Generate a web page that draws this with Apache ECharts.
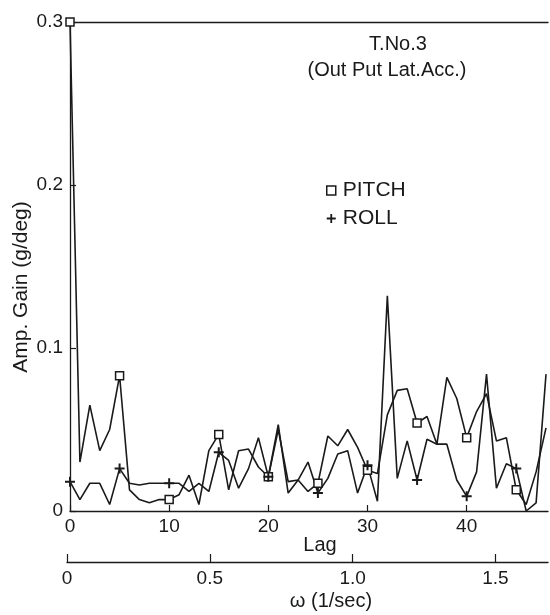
<!DOCTYPE html>
<html><head><meta charset="utf-8">
<script src="https://cdn.jsdelivr.net/npm/echarts@6/dist/echarts.min.js"></script>
<style>html,body{margin:0;padding:0;background:#fff}#c{width:550px;height:615px}</style>
</head><body><div id="c"></div>
<script>
// ---- data ----
const lags  = [0,1,2,3,4,5,6,7,8,9,10,11,12,13,14,15,16,17,18,19,20,21,22,23,24,25,26,27,28,29,30,31,32,33,34,35,36,37,38,39,40,41,42,43,44,45,46,47,48];
const pitch = [0.300,0.030,0.065,0.037,0.050,0.083,0.013,0.007,0.005,0.007,0.007,0.010,0.022,0.004,0.037,0.047,0.013,0.037,0.038,0.027,0.021,0.053,0.011,0.019,0.012,0.017,0.046,0.040,0.050,0.039,0.025,0.023,0.059,0.074,0.075,0.054,0.058,0.041,0.082,0.069,0.045,0.061,0.072,0.043,0.045,0.013,0.004,0.024,0.051];
const roll  = [0.018,0.007,0.017,0.017,0.004,0.026,0.017,0.016,0.017,0.017,0.017,0.017,0.012,0.017,0.012,0.036,0.031,0.014,0.026,0.045,0.021,0.050,0.018,0.019,0.030,0.011,0.020,0.035,0.037,0.011,0.028,0.006,0.132,0.020,0.043,0.019,0.044,0.041,0.041,0.019,0.009,0.024,0.084,0.014,0.029,0.026,0.000,0.005,0.084];
const lagTicks   = [0,10,20,30,40];
const omegaTicks = [0,0.5,1.0,1.5];
const yTicks     = [0,0.1,0.2,0.3];
const seriesNames = ['PITCH','ROLL'];
const titleLines = ['T.No.3','(Out Put Lat.Acc.)'];
const xName = 'Lag';
const omegaName = 'ω (1/sec)';
const yName = 'Amp. Gain (g/deg)';
const markerStep = 5;
const lagMax = 48.2;
const omegaMax = 1.684;

// ---- chart ----
const INK = '#1a1a1a';
const FONT = "'Liberation Sans', Arial, sans-serif";
const plus = 'path://M4,0H6V4H10V6H6V10H4V6H0V4H4Z';

const pair = arr => lags.map((l, i) => [l, arr[i]]);
const marks = arr => lags.filter(l => l % markerStep === 0).map(l => [l, arr[lags.indexOf(l)]]);

const chart = echarts.init(document.getElementById('c'), null, {renderer: 'canvas'});
chart.setOption({
  animation: false,
  backgroundColor: '#fff',
  textStyle: {fontFamily: FONT, color: INK},
  grid: [
    {left: 70, top: 22, width: 478, height: 489},
    {left: 67, top: 553, width: 481, height: 9}
  ],
  xAxis: [
    {type: 'value', gridIndex: 0, position: 'bottom', min: 0, max: lagMax,
     axisLine: {show: true, onZero: false, lineStyle: {color: INK, width: 1.3}},
     axisTick: {show: true, inside: true, length: 6, customValues: lagTicks, lineStyle: {color: INK, width: 1.2}},
     axisLabel: {customValues: lagTicks, margin: 6, fontSize: 19, color: INK, fontFamily: FONT},
     splitLine: {show: false}},
    {type: 'value', gridIndex: 1, position: 'bottom', min: 0, max: omegaMax,
     axisLine: {show: true, onZero: false, lineStyle: {color: INK, width: 1.3}},
     axisTick: {show: true, inside: true, length: 8, customValues: omegaTicks, lineStyle: {color: INK, width: 1.2}},
     axisLabel: {customValues: omegaTicks, margin: 7, fontSize: 19, color: INK, fontFamily: FONT,
                 formatter: v => v === 0 ? '0' : v.toFixed(1)},
     splitLine: {show: false}},
    {type: 'value', gridIndex: 0, position: 'top', min: 0, max: lagMax,
     axisLine: {show: true, onZero: false, lineStyle: {color: INK, width: 1.3}},
     axisTick: {show: false}, axisLabel: {show: false}, splitLine: {show: false}}
  ],
  yAxis: [
    {type: 'value', gridIndex: 0, min: 0, max: 0.3, interval: 0.1,
     axisLine: {show: true, onZero: false, lineStyle: {color: INK, width: 1.3}},
     axisTick: {show: true, inside: true, length: 6, customValues: yTicks, lineStyle: {color: INK, width: 1.2}},
     axisLabel: {customValues: yTicks, margin: 7, fontSize: 19, color: INK, fontFamily: FONT,
                 formatter: v => v === 0 ? '0' : v.toFixed(1)},
     splitLine: {show: false}},
    {type: 'value', gridIndex: 1, min: 0, max: 1, show: false}
  ],
  legend: {
    orient: 'vertical', left: 326, top: 180, padding: 0, itemGap: 7,
    itemWidth: 9, itemHeight: 9,
    textStyle: {fontSize: 21, lineHeight: 21, color: INK, fontFamily: FONT, padding: [0, 0, 0, 2]},
    data: [
      {name: seriesNames[0], icon: 'rect', itemStyle: {color: '#fff', borderColor: INK, borderWidth: 1.5}},
      {name: seriesNames[1], icon: plus, itemStyle: {color: INK, borderWidth: 0}}
    ]
  },
  graphic: [
    {type: 'text', x: 398, y: 44, style: {text: titleLines[0], align: 'center', verticalAlign: 'middle', font: '20px ' + FONT, fill: INK}},
    {type: 'text', x: 387, y: 70, style: {text: titleLines[1], align: 'center', verticalAlign: 'middle', font: '20px ' + FONT, fill: INK}},
    {type: 'text', x: 320, y: 545, style: {text: xName, align: 'center', verticalAlign: 'middle', font: '20px ' + FONT, fill: INK}},
    {type: 'text', x: 331, y: 601, style: {text: omegaName, align: 'center', verticalAlign: 'middle', font: '20px ' + FONT, fill: INK}},
    {type: 'text', x: 21, y: 287, rotation: Math.PI / 2,
     style: {text: yName, align: 'center', verticalAlign: 'middle', font: '21px ' + FONT, fill: INK}}
  ],
  series: [
    {name: 'PITCH-line', type: 'line', xAxisIndex: 0, yAxisIndex: 0, data: pair(pitch),
     symbol: 'none', lineStyle: {color: INK, width: 1.6}, z: 2},
    {name: 'ROLL-line', type: 'line', xAxisIndex: 0, yAxisIndex: 0, data: pair(roll),
     symbol: 'none', lineStyle: {color: INK, width: 1.6}, z: 2},
    {name: seriesNames[0], type: 'scatter', xAxisIndex: 0, yAxisIndex: 0, data: marks(pitch),
     symbol: 'rect', symbolSize: 8, itemStyle: {color: '#fff', borderColor: INK, borderWidth: 1.5, opacity: 1}, z: 4},
    {name: seriesNames[1], type: 'scatter', xAxisIndex: 0, yAxisIndex: 0, data: marks(roll),
     symbol: plus, symbolSize: 10, itemStyle: {color: INK, opacity: 1}, z: 5}
  ]
});
</script>
</body></html>
